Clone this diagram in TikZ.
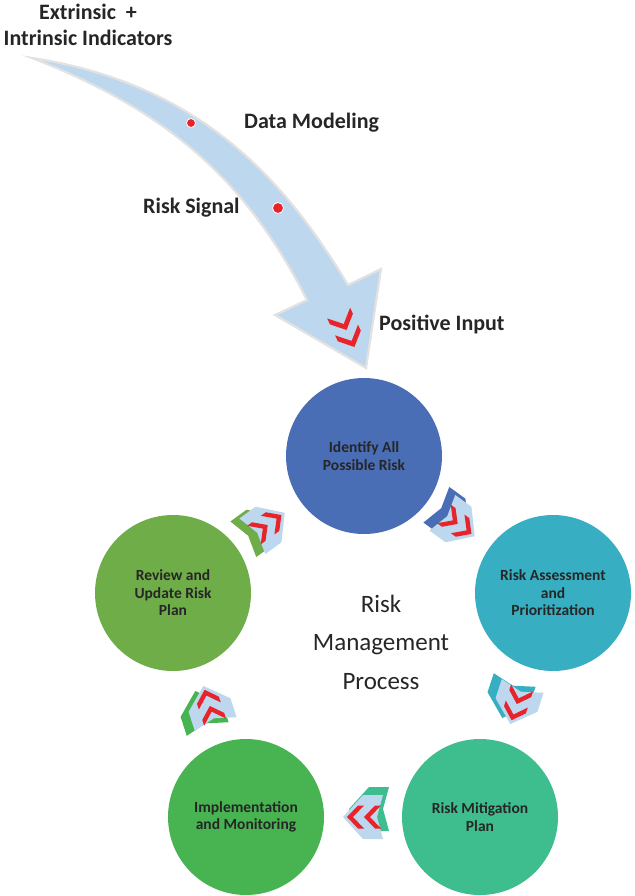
\documentclass[tikz,border=0pt]{standalone}
\usepackage{fontspec}
\setmainfont{Carlito}
\usetikzlibrary{calc}
\definecolor{txt}{HTML}{262626}
\definecolor{lblue}{HTML}{BDD7EE}
\definecolor{aredge}{HTML}{E2E2E2}
\definecolor{chevred}{HTML}{E8232A}
\definecolor{cid}{HTML}{4A6EB5}
\definecolor{cas}{HTML}{38AEC2}
\definecolor{cmi}{HTML}{3EBD8E}
\definecolor{cim}{HTML}{47B451}
\definecolor{crv}{HTML}{6FAD48}
\tikzset{
  lab/.style={inner sep=0pt, text=txt, font=\fontsize{22}{26}\selectfont\bfseries},
  circ/.style={circle, minimum size=156pt, inner sep=0pt, align=center, text=txt,
    font=\fontsize{15.5}{17.5}\selectfont\bfseries},
  chev/.pic={
    \fill[chevred] (-1,-11.5) -- (5,-11.5) -- (16,0) -- (5,11.5) -- (-1,11.5) -- (10,0) -- cycle;
    \fill[chevred] (-18,-11.5) -- (-12,-11.5) -- (-1,0) -- (-12,11.5) -- (-18,11.5) -- (-7,0) -- cycle;
  },
  plate/.pic={
    \fill[#1] (-20,-22) -- (0,-22) -- (20,0) -- (0,22) -- (-20,22) -- (-14,0) -- cycle;
  }
}
\begin{document}
\begin{tikzpicture}[x=1pt,y=-1pt]
\useasboundingbox (0,0) rectangle (634,896);

% big curved arrow
\draw[draw=aredge, line width=2.2pt, fill=lblue, line join=miter]
  (32,58) .. controls (202,84) and (286,182) .. (348,285)
  -- (381,269) -- (366,368) -- (275,315) -- (307,300)
  .. controls (248.5,184.3) and (171.5,112) .. cycle;
\filldraw[fill=chevred, draw=white, line width=0.8pt] (191,123) circle (4.5);
\filldraw[fill=chevred, draw=white, line width=0.8pt] (278,208) circle (5.5);
\pic[rotate=-65, scale=1.1] at (347,331) {chev};

% labels
\node[lab, align=center] (ext) at (88,25) {Extrinsic~~+\\Intrinsic Indicators};
\node[lab, anchor=west] (dm) at (244,123) {Data Modeling};
\node[lab, anchor=west] (rs) at (143,208) {Risk Signal};
\node[lab, anchor=west] (pi) at (379,324) {Positive Input};

% circles
\node[circ, fill=cid] (id) at (364,456) {Identify All\\Possible Risk};
\node[circ, fill=cas] (as) at (553,593) {Risk Assessment\\and\\Prioritization};
\node[circ, fill=cmi] (mi) at (480,817) {Risk Mitigation\\Plan};
\node[circ, fill=cim] (im) at (246,817) {Implementation\\and Monitoring};
\node[circ, fill=crv] (rv) at (173,593) {Review and\\Update Risk\\Plan};

\node[align=center, text=txt, inner sep=0pt, font=\fontsize{25}{38.5}\selectfont] (rmp) at (381,642) {Risk\\Management\\Process};

% connector icons
\pic[rotate=-36] at ($(id)!0.5!(as)+(-6,-8)$) {plate=cid};
\pic[rotate=-36] at ($(id)!0.5!(as)$) {plate=lblue};
\pic[rotate=-36] at ($(id)!0.5!(as)$) {chev};

\pic[rotate=-108] at ($(as)!0.5!(mi)+(-8,-6)$) {plate=cas};
\pic[rotate=-108] at ($(as)!0.5!(mi)$) {plate=lblue};
\pic[rotate=-108] at ($(as)!0.5!(mi)$) {chev};

\pic[rotate=180] at ($(mi)!0.5!(im)+(6,-8)$) {plate=cmi};
\pic[rotate=180] at ($(mi)!0.5!(im)$) {plate=lblue};
\pic[rotate=180] at ($(mi)!0.5!(im)$) {chev};

\pic[rotate=108] at ($(im)!0.5!(rv)+(-8,5)$) {plate=cim};
\pic[rotate=108] at ($(im)!0.5!(rv)$) {plate=lblue};
\pic[rotate=108] at ($(im)!0.5!(rv)$) {chev};

\pic[rotate=36] at ($(rv)!0.5!(id)+(-9,3)$) {plate=crv};
\pic[rotate=36] at ($(rv)!0.5!(id)$) {plate=lblue};
\pic[rotate=36] at ($(rv)!0.5!(id)$) {chev};
\end{tikzpicture}
\end{document}
